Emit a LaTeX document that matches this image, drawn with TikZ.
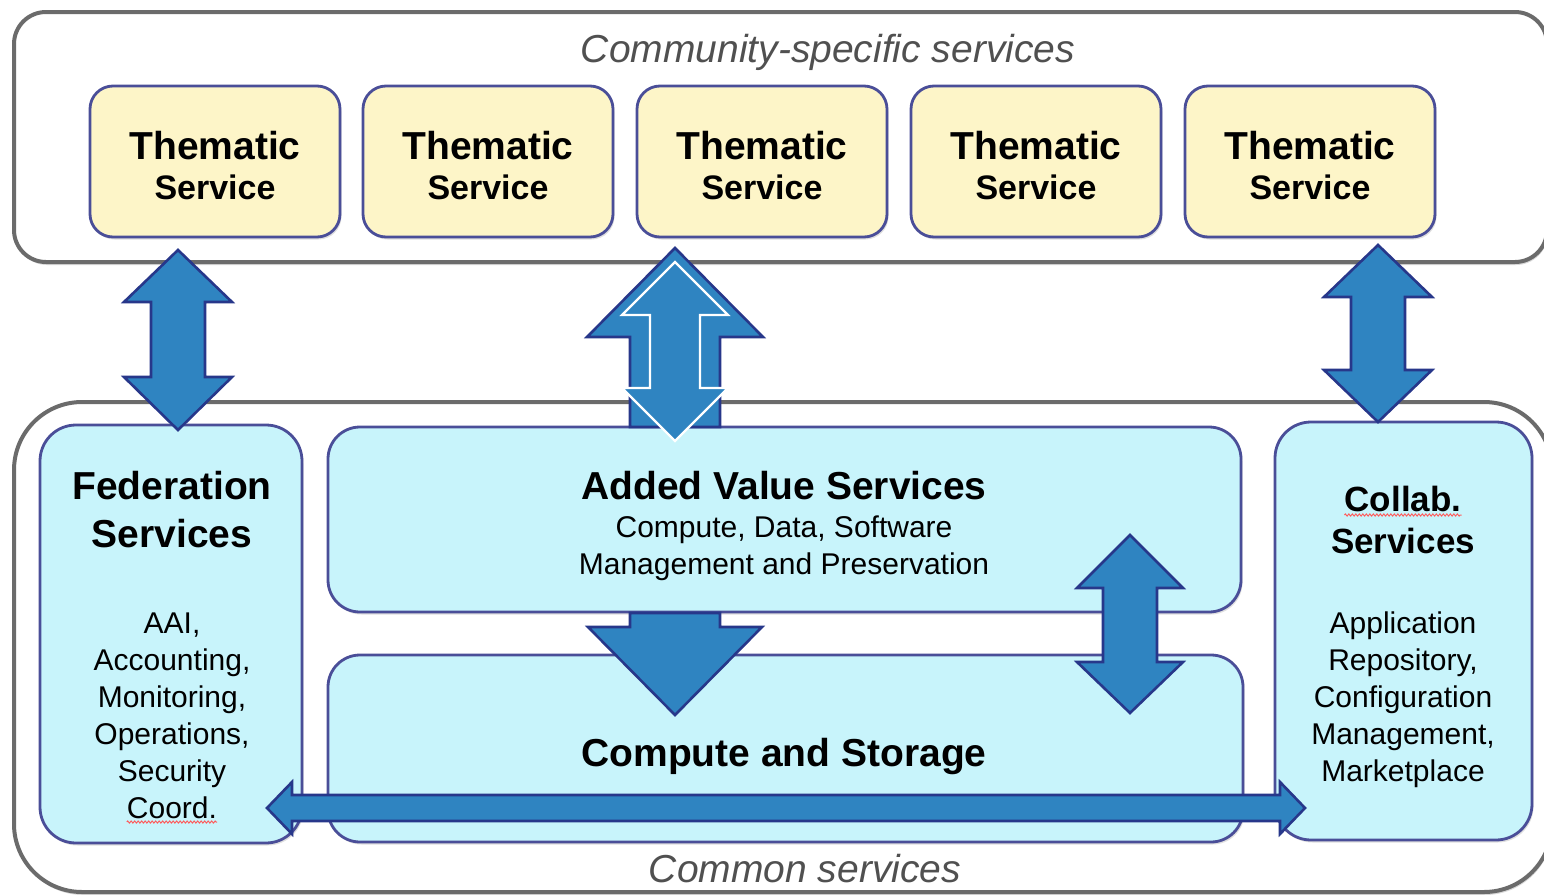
\documentclass[tikz,border=0pt]{standalone}
\usepackage{fontspec}
\setmainfont{Liberation Sans}
\usetikzlibrary{shadows,decorations.pathmorphing}
\definecolor{contline}{HTML}{6B6B6B}
\definecolor{yelfill}{HTML}{FDF5C8}
\definecolor{cyanfill}{HTML}{C8F4FB}
\definecolor{boxline}{HTML}{4A4E98}
\definecolor{arrfill}{HTML}{2F84C1}
\definecolor{arrline}{HTML}{27378A}
\definecolor{captxt}{HTML}{505050}
\newcommand{\VDarrow}[8][blkarrow]{% cx, tip1, base1, base2, tip2, headhalf, shafthalf
 \draw[#1] (#2,#3) -- ({#2+#7},#4) -- ({#2+#8},#4) -- ({#2+#8},#5) -- ({#2+#7},#5) -- (#2,#6)
   -- ({#2-#7},#5) -- ({#2-#8},#5) -- ({#2-#8},#4) -- ({#2-#7},#4) -- cycle;}
\newcommand{\HDarrow}[7]{% cy, tip1x, base1x, base2x, tip2x, headhalf, shafthalf
 \draw[blkarrow] (#2,#1) -- (#3,{#1-#6}) -- (#3,{#1-#7}) -- (#4,{#1-#7}) -- (#4,{#1-#6}) -- (#5,#1)
   -- (#4,{#1+#6}) -- (#4,{#1+#7}) -- (#3,{#1+#7}) -- (#3,{#1+#6}) -- cycle;}
\begin{document}
\begin{tikzpicture}[x=1pt,y=-1pt,
  container/.style={draw=contline, line width=4pt, fill=white, rounded corners=#1,
     drop shadow={shadow xshift=1pt, shadow yshift=-3pt, opacity=.3, fill=black!50}},
  thbox/.style={draw=boxline, line width=2.8pt, fill=yelfill, rounded corners=23pt,
     minimum width=250pt, minimum height=151pt, inner sep=0pt,
     drop shadow={shadow xshift=1.5pt, shadow yshift=-2.5pt, opacity=.25, fill=black!50}},
  cybox/.style={draw=boxline, line width=2.8pt, fill=cyanfill, rounded corners=#1, inner sep=0pt,
     drop shadow={shadow xshift=1.5pt, shadow yshift=-2.5pt, opacity=.25, fill=black!50}},
  blkarrow/.style={draw=arrline, fill=arrfill, line width=2.6pt, line join=miter},
  whitearrow/.style={draw=white, fill=arrfill, line width=2.2pt, line join=miter},
  txt/.style={inner sep=0pt, anchor=base},
  thtxt/.style={txt, font=\fontsize{39}{40}\selectfont\bfseries},
  thsub/.style={txt, font=\fontsize{34}{40}\selectfont\bfseries},
  bigtxt/.style={txt, font=\fontsize{39}{40}\selectfont\bfseries},
  coltxt/.style={txt, font=\fontsize{35}{40}\selectfont\bfseries},
  smalltxt/.style={txt, font=\fontsize{30}{36}\selectfont},
  captxtstyle/.style={txt, text=captxt, font=\fontsize{39}{40}\selectfont\itshape},
  squiggle/.style={draw=red!65, line width=1pt, decorate,
     decoration={zigzag, segment length=3.5pt, amplitude=1pt}}
]
\useasboundingbox (0,0) rectangle (1544,894);

% containers
\node[container=32pt, minimum width=1533pt, minimum height=250pt] (topbox) at (780.5,137) {};
\node[captxtstyle] (topcap) at (828,62) {Community-specific services};
\foreach \cx [count=\i] in {215,488,762,1036,1310} {
  \node[thbox] (th\i) at (\cx,161.5) {};
  \node[thtxt] (th\i-a) at (\cx,159) {Thematic};
  \node[thsub] (th\i-b) at (\cx,199) {Service};
}

\node[container=68pt, minimum width=1538pt, minimum height=490pt] (botbox) at (783,647) {};
\node[captxtstyle] (botcap) at (805,882) {Common services};

% inner boxes
\node[cybox=36pt, minimum width=262pt, minimum height=418pt] (fed) at (171,634) {};
\node[cybox=32pt, minimum width=913pt, minimum height=185pt] (avs) at (784.5,519.5) {};
\node[cybox=32pt, minimum width=915pt, minimum height=187pt] (cs) at (785.5,748.5) {};
\node[cybox=36pt, minimum width=257pt, minimum height=418pt] (col) at (1403.5,631) {};

% texts
\node[bigtxt] (fed-a) at (172,499) {Federation};
\node[bigtxt] (fed-b) at (172,547) {Services};
\foreach \t [count=\i] in {{AAI,},{Accounting,},{Monitoring,},{Operations,},{Security}} {
  \node[smalltxt] (fedl\i) at (172,{633+37*(\i-1)}) {\t};
}
\node[smalltxt] (fedl6) at (172,818) {Coord.};
\draw[squiggle] ([yshift=-4pt]fedl6.base west) -- ([yshift=-4pt]fedl6.base east);

\node[bigtxt] (avs-a) at (784,499) {Added Value Services};
\node[smalltxt] (avs-b) at (784,537) {Compute, Data, Software};
\node[smalltxt] (avs-c) at (784,574) {Management and Preservation};
\node[bigtxt] (cs-a) at (784,766) {Compute and Storage};

\node[coltxt] (col-a) at (1403,511) {Collab.};
\draw[squiggle] ([yshift=-4pt]col-a.base west) -- ([yshift=-4pt]col-a.base east);
\node[coltxt] (col-b) at (1403,553) {Services};
\foreach \t [count=\i] in {{Application},{Repository,},{Configuration},{Management,},{Marketplace}} {
  \node[smalltxt] (coll\i) at (1403,{633+37*(\i-1)}) {\t};
}

% arrows
\VDarrow{178}{250}{302}{377}{430}{54}{27}
\VDarrow{1378}{245}{297}{370}{422}{54}{27}

% middle arrow
\draw[blkarrow] (675,248) -- (763,337) -- (720,337) -- (720,427) -- (630,427) -- (630,337) -- (587,337) -- cycle;
\VDarrow[whitearrow]{675}{262}{315}{388}{441}{53}{25}

% down arrow
\draw[blkarrow] (630,613) -- (720,613) -- (720,627) -- (762,627) -- (675,715) -- (588,627) -- (630,627) -- cycle;

% small double arrow
\VDarrow{1130}{535}{588}{662}{713}{53}{27}

% horizontal arrow
\HDarrow{808}{267}{292}{1280}{1305}{26}{13}
\end{tikzpicture}
\end{document}
